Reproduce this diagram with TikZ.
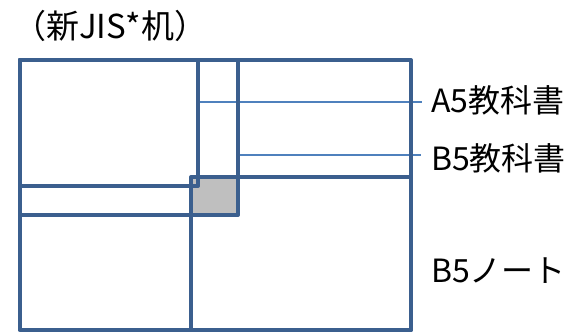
\documentclass[tikz,border=0pt]{standalone}
\usepackage{fontspec}
\setmainfont{Noto Sans CJK JP}
\usepackage{tikz}
\usetikzlibrary{positioning}
\definecolor{deskblue}{HTML}{3B5F8E}
\definecolor{leadblue}{HTML}{4F81BD}
\definecolor{overlapgray}{HTML}{BFBFBF}
\tikzset{
  book/.style={draw=deskblue,line width=4pt,line join=round},
  lead/.style={draw=leadblue,line width=1.6pt},
  tag/.style={anchor=west,inner xsep=0pt,inner ysep=0pt,font=\fontsize{32}{35}\selectfont}
}
\begin{document}
\begin{tikzpicture}[x=1pt,y=-1pt]
\useasboundingbox (0,0) rectangle (571,332);
\node[tag,font=\fontsize{33}{36}\selectfont] (title) at (13,26) {（新JIS*机）};
\fill[overlapgray] (191,177) rectangle (238,215);
\coordinate (a5edge) at (198,102);
\coordinate (b5edge) at (238,155);
\node[tag] (a5) at (431,100) {A5教科書};
\node[tag] (b5) at (431,158) {B5教科書};
\node[tag] (note) at (431,271) {B5ノート};
\coordinate (a5tip) at (422,102);
\coordinate (b5tip) at (421,155);
\draw[lead] (a5edge) -- (a5tip);
\draw[lead] (b5edge) -- (b5tip);
\draw[book] (19.5,60) rectangle (411,330);
\draw[book] (19.5,60) rectangle (198,186);
\draw[book] (19.5,60) rectangle (238,215);
\draw[book] (191,177) rectangle (411,330);
\end{tikzpicture}
\end{document}
